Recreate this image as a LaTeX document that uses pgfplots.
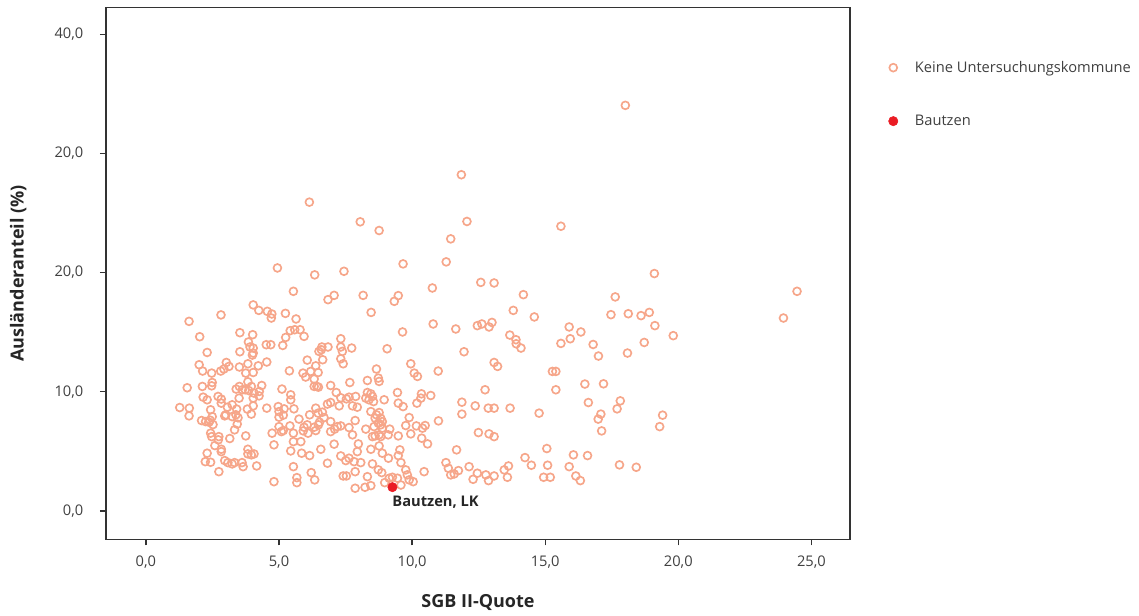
\documentclass[border=0pt]{standalone}
\usepackage{fontspec}
\setmainfont{Open Sans}
\usepackage{pgfplots}
\pgfplotsset{compat=1.18}

\definecolor{ptsalmon}{RGB}{246,166,138}
\definecolor{bautzenred}{RGB}{234,28,36}
\definecolor{axisgray}{RGB}{51,51,51}
\definecolor{txtgray}{RGB}{64,64,64}

\begin{document}
\begin{tikzpicture}
\useasboundingbox (-79.5pt,-57.375pt) rectangle (774.75pt,404.625pt);
\begin{axis}[
  scale only axis, width=558pt, height=399pt,
  xmin=-1.5, xmax=26.45, ymin=-2.39, ymax=42.24,
  axis line style={axisgray, line width=1.1pt},
  xtick={0,5,10,15,20,25},
  xticklabels={\mbox{0,0},\mbox{5,0},\mbox{10,0},\mbox{15,0},\mbox{20,0},\mbox{25,0}},
  ytick={0,10,20,30,40},
  yticklabels={\mbox{0,0},\mbox{10,0},\mbox{20,0},\mbox{20,0},\mbox{40,0}},
  tick align=outside, major tick length=4.5pt,
  tick style={axisgray, line width=1pt},
  xtick pos=bottom, ytick pos=left,
  ticklabel style={font=\fontsize{11}{13}\selectfont, text=txtgray},
  xticklabel style={yshift=-4.5pt},
  yticklabel style={xshift=-9pt},
  xlabel={SGB II-Quote},
  ylabel={Ausländeranteil (\%)},
  label style={font=\bfseries\fontsize{13.5}{16}\selectfont, text=black!85},
  xlabel style={at={([yshift=-47.6pt]axis description cs:0.5,0)}, anchor=center},
  ylabel style={at={([xshift=-65.8pt]axis description cs:0,0.5)}, anchor=center},
  legend style={draw=none, fill=none, at={(axis description cs:1,1)},
    anchor=north west, xshift=25.75pt, yshift=-36pt,
    font=\fontsize{11}{13}\selectfont, text=txtgray, row sep=26.5pt,
    /tikz/every odd column/.append style={column sep=10.7pt}},
  legend cell align=left,
]
% Landkreise und kreisfreie Städte ohne Untersuchung
\addplot[only marks, mark=o, mark size=2.95pt, mark options={line width=1.25pt, draw=ptsalmon}, draw=ptsalmon]
coordinates {
(5.54,18.43) (7.07,18.09) (6.84,17.73) (4.03,17.29) (4.24,16.83) (4.56,16.75) (4.73,16.53) (4.71,16.19) (2.82,16.45) (5.24,16.58)
(1.62,15.91) (5.64,16.11) (2.02,14.62) (3.53,14.96) (4.01,14.79) (5.42,15.13) (5.59,15.21) (5.79,15.21) (5.94,14.65) (5.25,14.56)
(5.14,13.89) (3.85,14.18) (3.91,13.76) (4.03,13.67) (4.03,13.25) (4.00,13.08) (4.52,13.95) (4.69,13.95) (2.30,13.30) (3.53,13.36)
(7.32,14.45) (7.32,13.76) (7.38,13.39) (6.61,13.76) (6.50,13.39) (6.59,13.53) (6.84,13.76) (6.64,12.69) (6.06,12.66) (7.32,12.77)
(7.41,12.35) (2.00,12.27) (2.13,11.74) (2.47,11.57) (3.02,12.46) (3.12,12.13) (2.93,11.91) (2.81,11.74) (3.51,12.08) (3.83,12.35)
(3.75,11.57) (4.03,11.62) (4.22,12.18) (4.54,12.50) (5.39,11.76) (5.90,11.57) (6.00,11.24) (6.19,11.71) (6.38,12.18) (6.47,11.62)
(6.32,11.07) (6.42,10.45) (6.32,10.45) (6.48,10.39) (2.49,10.78) (2.47,10.50) (1.55,10.34) (2.12,10.45) (3.51,10.45) (3.39,10.23)
(3.62,10.17) (3.83,10.84) (3.96,10.45) (3.86,10.11) (3.73,10.17) (4.35,10.53) (4.26,10.03) (4.06,9.89) (4.25,9.66) (4.03,9.47)
(5.11,10.23) (5.44,9.75) (5.44,9.33) (6.94,10.53) (7.15,9.94) (7.32,9.50) (2.15,9.55) (2.30,9.33) (2.71,9.61) (2.83,9.39)
(2.83,9.05) (3.50,9.47) (3.24,8.91) (3.06,8.71) (3.41,8.55) (4.03,8.82) (3.81,8.55) (3.96,8.13) (4.54,8.63) (1.27,8.68)
(1.63,8.63) (1.62,7.98) (2.43,8.49) (3.00,8.07) (2.96,7.98) (3.38,8.07) (3.24,7.92) (3.46,7.82) (4.97,8.76) (5.00,8.34)
(5.19,8.57) (5.16,8.04) (5.00,7.87) (5.56,8.57) (5.75,7.71) (6.15,8.07) (6.38,8.63) (6.47,8.21) (6.63,8.29) (6.69,7.84)
(6.52,7.45) (6.82,8.97) (6.94,9.10) (7.26,8.82) (6.94,7.50) (2.09,7.59) (2.24,7.50) (2.37,7.45) (2.49,7.92) (2.52,7.25)
(2.41,7.62) (3.43,7.29) (3.33,6.81) (3.75,6.30) (2.43,6.53) (2.47,6.24) (2.74,6.24) (2.72,5.97) (3.15,6.08) (2.59,5.49)
(2.83,5.18) (2.83,4.98) (2.30,4.85) (2.23,4.14) (2.43,4.09) (2.96,4.23) (3.08,4.06) (3.24,3.95) (3.33,4.06) (3.61,4.06)
(3.65,3.72) (3.83,5.18) (3.83,4.79) (3.96,4.71) (4.06,4.79) (4.16,3.78) (2.74,3.30) (4.74,6.53) (4.81,5.55) (5.00,7.08)
(5.16,6.75) (5.09,6.66) (5.41,7.14) (5.54,6.53) (5.54,5.82) (5.82,5.82) (5.94,7.03) (6.06,7.23) (5.91,6.72) (6.09,6.53)
(6.32,7.03) (6.38,6.75) (6.48,7.23) (6.94,6.66) (7.09,6.87) (7.32,7.14) (7.19,7.08) (5.44,5.04) (5.85,4.85) (6.15,4.65)
(6.57,5.18) (7.07,5.61) (7.32,4.62) (6.82,4.01) (5.54,3.72) (6.21,3.22) (6.34,2.61) (5.67,2.80) (5.67,2.38) (4.81,2.46)
(7.41,2.94) (4.94,20.39)
(8.16,18.09) (9.48,18.07) (9.33,17.59) (10.76,18.71) (8.46,16.66) (13.80,16.83) (10.79,15.69) (11.64,15.27) (12.45,15.55) (12.62,15.69)
(13.00,15.82) (12.89,15.44) (9.64,15.02) (13.67,14.76) (13.90,14.37) (13.91,14.03) (14.09,13.67) (7.73,13.67) (9.06,13.61) (11.95,13.36)
(9.95,12.35) (10.08,11.57) (10.20,11.29) (8.66,11.91) (8.73,11.15) (8.76,10.87) (10.98,11.74) (13.08,12.46) (13.21,12.13) (7.66,10.78)
(8.32,10.95) (12.74,10.17) (7.53,9.41) (7.63,9.55) (7.88,9.61) (8.26,9.47) (8.32,9.94) (8.45,9.83) (8.51,9.61) (8.38,9.33)
(8.55,9.18) (8.95,9.33) (9.45,9.94) (9.48,9.05) (9.66,8.76) (10.35,9.83) (10.33,9.47) (10.18,9.05) (10.70,9.69) (11.87,9.13)
(11.87,8.13) (12.37,8.82) (12.86,8.63) (13.08,8.63) (13.68,8.63) (7.76,8.82) (7.94,8.71) (8.45,8.34) (8.66,8.07) (8.76,8.26)
(8.61,7.79) (8.82,7.79) (8.88,7.50) (7.86,7.59) (7.63,7.00) (7.76,6.39) (8.26,6.87) (8.57,7.08) (8.73,7.37) (8.82,7.23)
(8.88,6.95) (8.51,6.24) (8.61,6.30) (8.76,6.39) (8.82,6.24) (9.16,6.87) (9.10,6.39) (9.48,6.30) (9.89,7.84) (9.76,7.17)
(9.95,6.47) (10.16,7.14) (10.39,6.95) (10.49,7.17) (10.36,6.11) (10.58,5.63) (10.99,7.56) (12.49,6.58) (12.89,6.47) (13.08,6.24)
(7.98,5.63) (7.94,4.98) (8.45,5.18) (8.76,5.46) (8.88,4.85) (9.11,4.43) (9.54,5.13) (9.48,4.65) (9.58,4.06) (7.51,4.23)
(7.63,4.43) (7.82,4.14) (8.07,4.06) (8.51,3.95) (8.73,3.45) (8.86,3.22) (7.53,2.94) (7.86,3.30) (8.32,2.88) (7.86,1.91)
(8.23,1.99) (8.45,2.13) (8.97,2.38) (9.14,2.75) (9.26,2.83) (9.45,2.75) (9.58,2.18) (9.76,3.45) (9.82,3.03) (9.89,2.61)
(10.04,2.46) (10.45,3.30) (11.67,5.13) (11.27,4.06) (11.36,3.59) (11.45,3.03) (11.58,3.11) (11.74,3.39) (12.14,3.72) (12.29,2.66)
(12.45,3.17) (12.77,3.03) (12.87,2.55) (13.08,2.94) (13.46,3.45) (13.62,3.78) (13.58,2.83)
(14.18,18.15) (17.63,17.96) (14.59,16.28) (17.47,16.47) (18.12,16.55) (18.60,16.39) (18.91,16.66) (19.12,15.55) (19.81,14.71) (15.90,15.44)
(16.34,15.02) (15.94,14.45) (15.59,14.06) (16.80,13.97) (17.00,13.00) (18.72,14.14) (18.09,13.25) (15.27,11.71) (15.40,11.71) (15.40,10.17)
(16.49,10.65) (17.19,10.67) (16.62,9.10) (17.82,9.24) (17.70,8.57) (17.09,8.13) (16.99,7.71) (17.12,6.72) (19.41,8.04) (19.30,7.08)
(14.77,8.21) (15.06,5.24) (14.24,4.48) (14.48,3.84) (15.09,3.84) (14.94,2.83) (15.19,2.83) (16.06,4.71) (16.59,4.65) (15.90,3.72)
(16.15,2.94) (16.32,2.55) (17.79,3.87) (18.42,3.67) (24.46,18.43) (23.95,16.19) (18.01,34.03) (15.59,23.89) (19.10,19.92) (11.85,28.21)
(6.14,25.91) (8.05,24.26) (8.76,23.53) (12.06,24.29) (11.45,22.83) (6.34,19.81) (7.44,20.11) (9.66,20.73) (11.28,20.90) (12.58,19.18)
(13.08,19.13)
};
\addlegendentry{Keine Untersuchungskommune}

% Landkreis Bautzen
\addplot[only marks, mark=*, mark size=3.5pt, color=bautzenred]
coordinates {(9.26,2.00)};
\addlegendentry{Bautzen}

\node[anchor=north west, xshift=-3.5pt, yshift=-3.0pt, inner sep=3.3pt,
      font=\bfseries\fontsize{11}{13}\selectfont, text=black!85]
  at (axis cs:9.26,2.00) {Bautzen, LK};
\end{axis}
\end{tikzpicture}
\end{document}
